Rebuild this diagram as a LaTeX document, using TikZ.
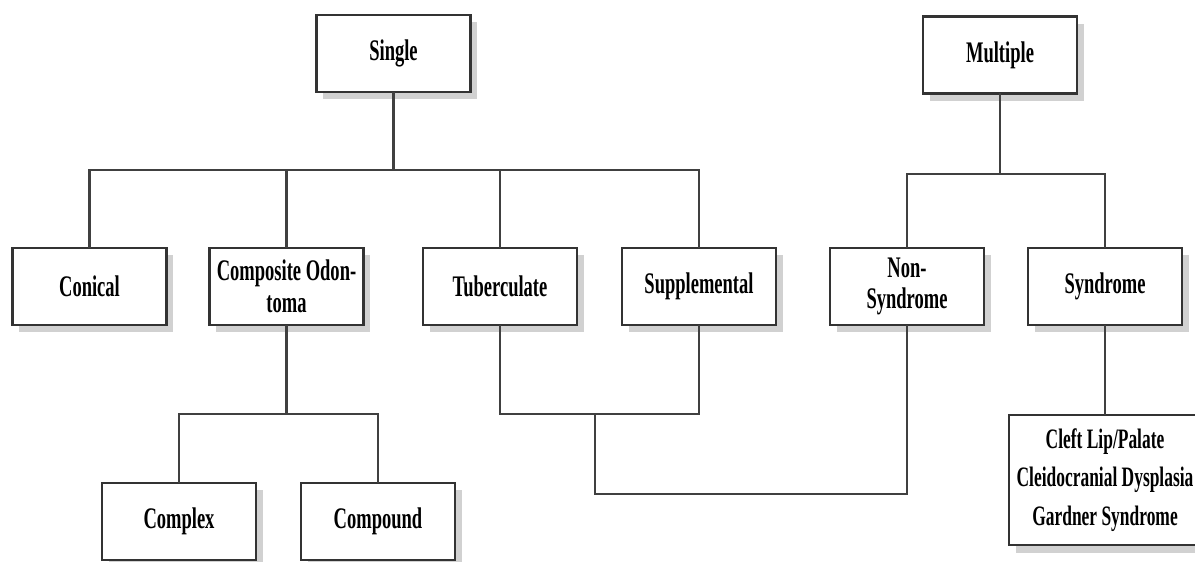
\documentclass[tikz,border=0pt]{standalone}
\usepackage{fontspec}
\setmainfont{Liberation Serif}[FakeStretch=0.62]
\usetikzlibrary{positioning,shadows}

\tikzset{
  box/.style={draw=black!80, line width=1.5pt, fill=white, outer sep=0pt,
    minimum width=3.08cm, minimum height=1.54cm, inner sep=2pt,
    align=center, font=\bfseries\fontsize{17}{18}\selectfont,
    drop shadow={shadow xshift=0.13cm, shadow yshift=-0.15cm,
      fill=black!18, opacity=1}},
  link/.style={draw=black!75, line width=1.4pt},
}

\begin{document}
\begin{tikzpicture}

  \useasboundingbox (0,0) rectangle (23.9,-11.24);

  % Nodes:
  \node[box] (single) at (7.87,-1.07) {Single};
  \node[box] (multiple) at (20.0,-1.1) {Multiple};

  \node[box] (conical) at (1.79,-5.73) {Conical};
  \node[box, right=0.86cm of conical] (composite) {Composite Odon-\\toma};
  \node[box] (tuberculate) at (10.0,-5.73) {Tuberculate};
  \node[box, right=0.9cm of tuberculate] (supplemental) {Supplemental};
  \node[box, right=1.08cm of supplemental] (nonsyn) {Non-\\Syndrome};
  \node[box, right=0.88cm of nonsyn] (syndrome) {Syndrome};

  \node[box] (complex) at (3.58,-10.43) {Complex};
  \node[box, right=0.9cm of complex] (compound) {Compound};
  \node[box, minimum width=3.84cm, minimum height=2.6cm,
    font=\bfseries\fontsize{16}{22}\selectfont] (disorders)
    at (syndrome |- 0,-9.6)
    {Cleft Lip/Palate\\Cleidocranial Dysplasia\\Gardner Syndrome};

  % Bars:
  \coordinate (sbar) at (0,-3.4);
  \coordinate (mbar) at (0,-3.48);
  \coordinate (lowbar) at (0,-8.28);
  \coordinate (tsmid) at (11.9,-8.28);
  \coordinate (joinbar) at (0,-9.88);

  % Connections:
  \draw[link] (single.south) -- (single |- sbar);
  \draw[link] (conical.north) |- (supplemental |- sbar) -- (supplemental.north);
  \draw[link] (composite.north) -- (composite |- sbar);
  \draw[link] (tuberculate.north) -- (tuberculate |- sbar);

  \draw[link] (multiple.south) -- (multiple |- mbar);
  \draw[link] (nonsyn.north) |- (syndrome |- mbar) -- (syndrome.north);

  \draw[link] (composite.south) -- (composite |- lowbar);
  \draw[link] (complex.north) |- (compound |- lowbar) -- (compound.north);

  \draw[link] (tuberculate.south) |- (supplemental |- lowbar) -- (supplemental.south);
  \draw[link] (tsmid) |- (nonsyn |- joinbar) -- (nonsyn.south);

  \draw[link] (syndrome.south) -- (disorders.north);

\end{tikzpicture}
\end{document}
